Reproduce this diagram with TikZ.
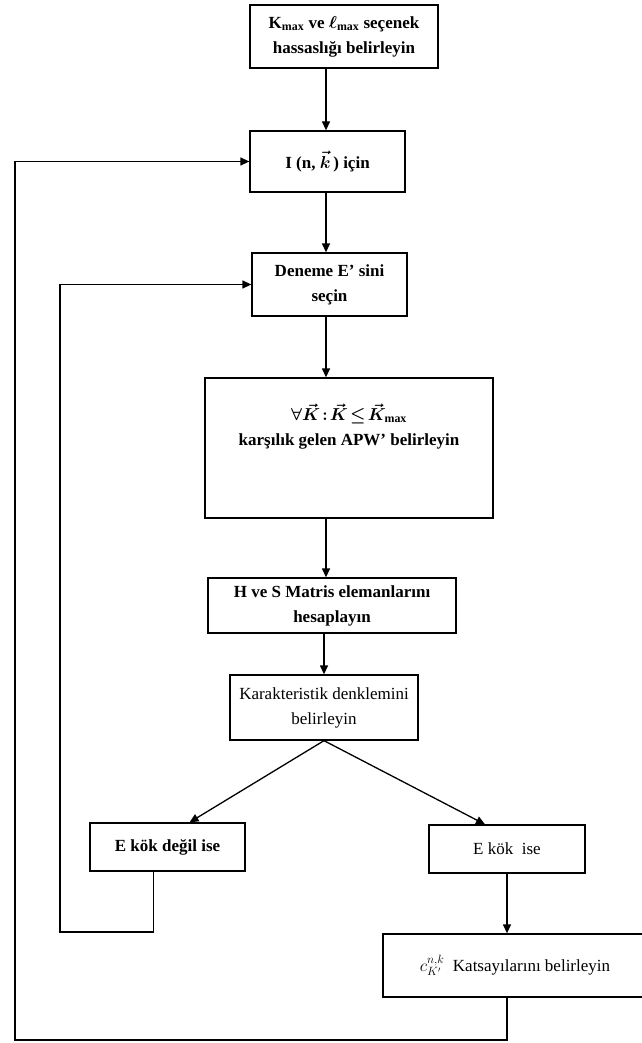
\documentclass[tikz,border=0pt]{standalone}
\usepackage{fontspec}
\setmainfont{Liberation Serif}
\usetikzlibrary{arrows.meta}

\tikzset{
    stepbox/.style={draw, line width=1.3pt, rectangle, inner sep=0pt, align=center,
        font=\fontsize{17}{25}\selectfont\bfseries\boldmath},
    plainbox/.style={stepbox, font=\fontsize{17}{25}\selectfont},
    flow/.style={line width=1.3pt, -{Triangle[length=9pt,width=8pt]}},
}

\begin{document}
\begin{tikzpicture}[x=1pt, y={(0pt,-1pt)}]
    \useasboundingbox (0,0) rectangle (641,1043);

    % main column
        \coordinate (spine) at (326,0);
        \node [stepbox, minimum width=188pt, minimum height=63pt] (kmax) at (344,36.5)
            {K$_{\max}$ ve $\ell_{\max}$ seçenek\\hassaslığı belirleyin};
        \node [stepbox, minimum width=155pt, minimum height=61pt] (loopk) at (327.5,161.5)
            {I (n, $\vec{k}$\,) için};
        \node [stepbox, minimum width=155pt, minimum height=63pt] (trial) at (329.5,284.5)
            {Deneme E’ sini\\seçin};
        \node [stepbox, minimum width=288pt, minimum height=140pt] (apw) at (349,448)
            {$\forall\vec{K}\!:\!\vec{K}\!\leq\!\vec{K}_{\max}$\\karşılık gelen APW’ belirleyin\\[22pt]\mbox{}};
        \node [stepbox, minimum width=248pt, minimum height=55pt] (hsmat) at (332,605.5)
            {H ve S Matris elemanlarını\\hesaplayın};
        \node [plainbox, minimum width=188pt, minimum height=65pt] (chareq) at (324,707.5)
            {Karakteristik denklemini\\belirleyin};

    % branches
        \node [stepbox, minimum width=155pt, minimum height=48pt] (notroot) at (167.5,847)
            {E kök değil ise};
        \node [plainbox, minimum width=156pt, minimum height=48pt] (root) at (507,849)
            {E kök\ \ ise};
        \node [plainbox, minimum width=264pt, minimum height=63pt] (coeff) at (515,965.5)
            {$c^{n,k}_{K'}$\ \ Katsayılarını belirleyin};

    % connectors
        \draw [flow] (kmax.south -| spine) -- (loopk.north -| spine);
        \draw [flow] (loopk.south -| spine) -- (trial.north -| spine);
        \draw [flow] (trial.south -| spine) -- (apw.north -| spine);
        \draw [flow] (apw.south -| spine) -- (hsmat.north -| spine);
        \draw [flow] (hsmat.south -| chareq.south) -- (chareq.north);
        \draw [flow] (chareq.south) -- ([xshift=22pt]notroot.north);
        \draw [flow] (chareq.south) -- ([xshift=-22pt]root.north);
        \draw [flow] (root.south) -- (root.south |- coeff.north);

    % loops back
        \coordinate (innerturn) at (60,932);
        \coordinate (outerturn) at (15,1040);
        \draw [flow] ([xshift=-14pt]notroot.south) |- (innerturn) |- (trial.west);
        \draw [flow] (coeff.south -| root.south) |- (outerturn) |- (loopk.west);
\end{tikzpicture}
\end{document}
